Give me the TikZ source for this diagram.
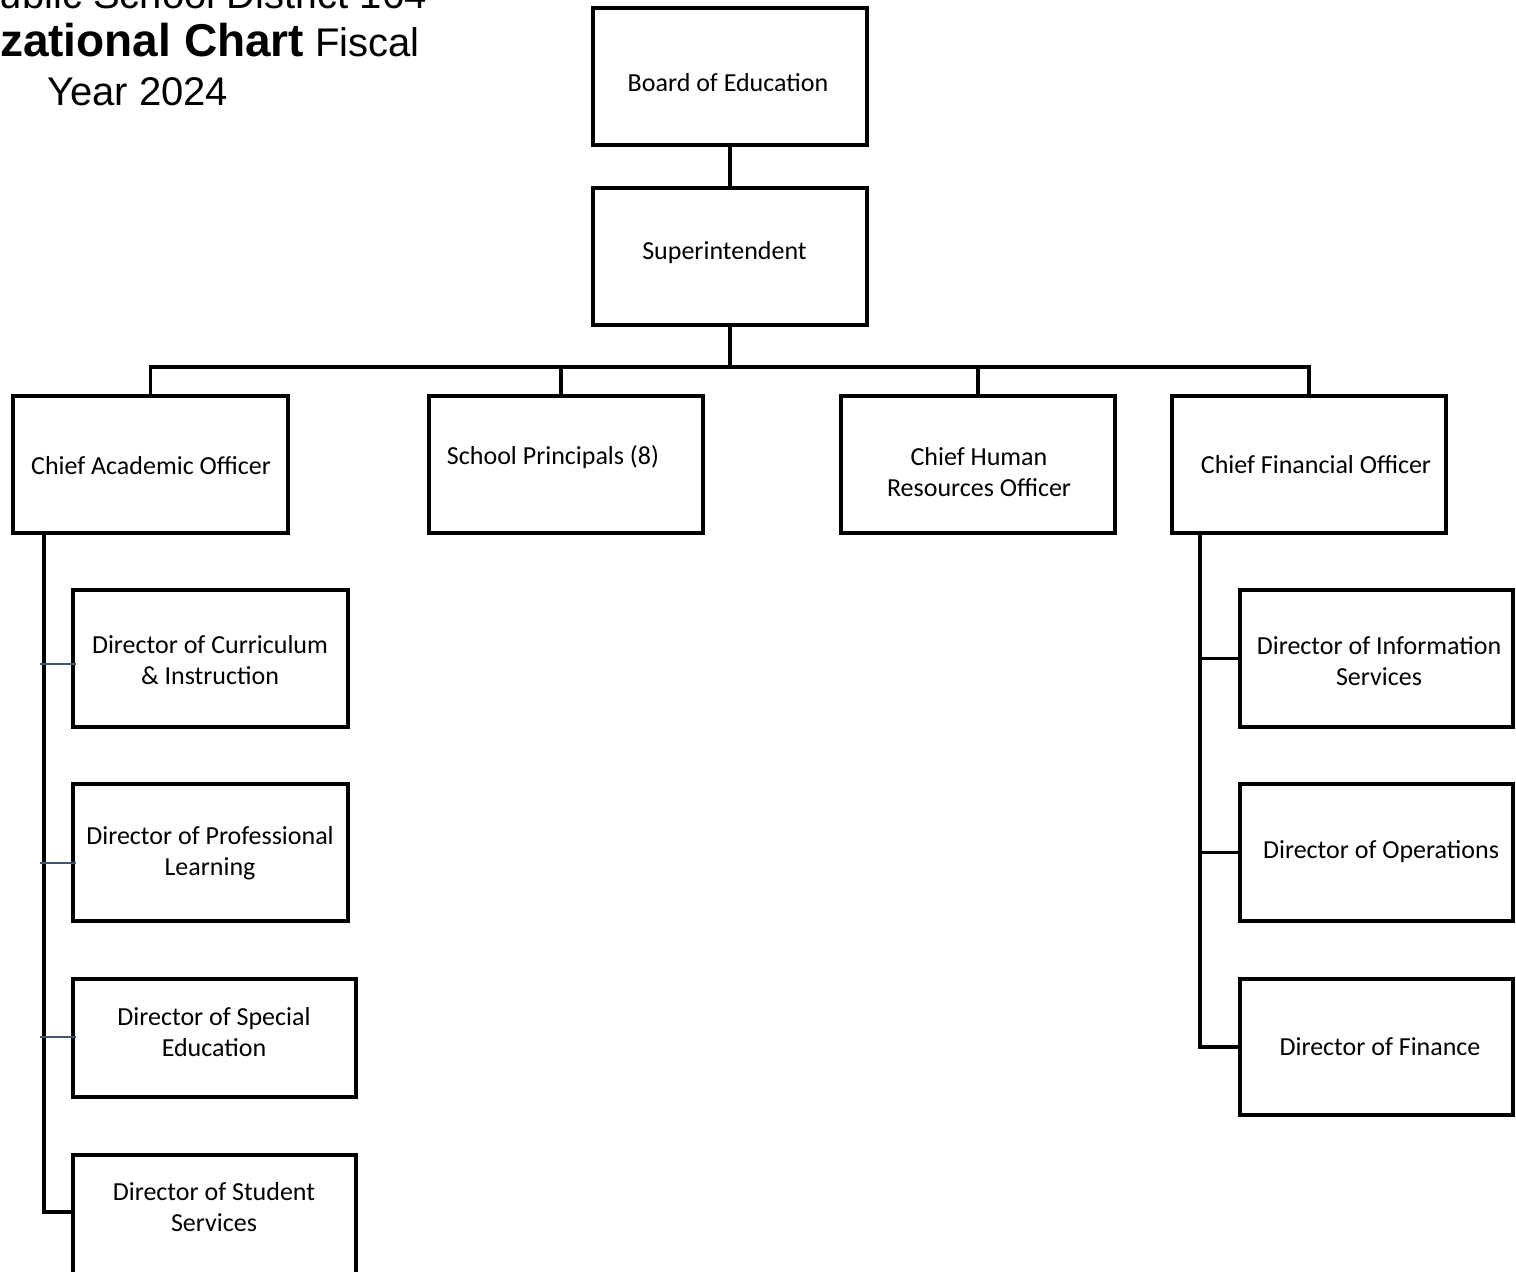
\documentclass[tikz,border=0pt]{standalone}
\usepackage{fontspec}
\setmainfont{Carlito}
\newfontfamily\titlefont{Liberation Sans}
\definecolor{stubcol}{RGB}{68,84,106}
\begin{document}
\begin{tikzpicture}[x=0.75pt,y=-0.75pt,
  box/.style 2 args={draw=black,line width=2.6pt,minimum width=#1*0.75pt,minimum height=#2*0.75pt,inner sep=0pt},
  txt/.style={font=\fontsize{19.5}{23.5}\selectfont,align=center,inner sep=0pt},
  link/.style={draw=black,line width=2.6pt},
  stub/.style={draw=stubcol,line width=1.5pt},
  ttl/.style={font=\titlefont\fontsize{30}{34}\selectfont,inner sep=0pt}]
\useasboundingbox (0,0) rectangle (1516,1271);
\clip (0,0) rectangle (1516,1271);
\fill[white] (0,0) rectangle (1516,1271);

% title
\node[ttl,anchor=base east] (t1) at (427,8) {Public School District 164};
\node[ttl,anchor=base east] (t2) at (420,56) {{\fontsize{34.5}{36}\selectfont\bfseries Organizational Chart} Fiscal};
\node[ttl,anchor=base west] (t3) at (47,105) {Year 2024};

% boxes (y down, in px)
\node[box={274}{137}] (board) at (730,76.5) {};
\node[box={274}{137}] (sup) at (730,256.5) {};
\node[box={275}{137}] (cao) at (150.5,464.5) {};
\node[box={274}{137}] (sp) at (566,464.5) {};
\node[box={274}{137}] (chro) at (978,464.5) {};
\node[box={274}{137}] (cfo) at (1309,464.5) {};
\node[box={275}{137}] (dci) at (210.5,658.5) {};
\node[box={275}{137}] (dpl) at (210.5,852.5) {};
\node[box={283}{118}] (dse) at (214.5,1038) {};
\node[box={283}{137}] (dss) at (214.5,1223.5) {};
\node[box={273}{137}] (dis) at (1376.5,658.5) {};
\node[box={273}{137}] (dop) at (1376.5,852.5) {};
\node[box={273}{136}] (dfi) at (1376.5,1047) {};

% texts
\node[txt] (tboard) at (728,83) {Board of Education};
\node[txt] (tsup) at (724.5,253) {Superintendent};
\node[txt] (tcao) at (151,466) {Chief Academic Officer};
\node[txt] (tsp) at (553,457) {School Principals (8)};
\node[txt] (tchro) at (979,472) {Chief Human\\Resources Officer};
\node[txt] (tcfo) at (1316,465) {Chief Financial Officer};
\node[txt] (tdci) at (210,660) {Director of Curriculum\\\& Instruction};
\node[txt] (tdpl) at (210,853) {Director of Professional\\Learning};
\node[txt] (tdse) at (214,1032) {Director of Special\\Education};
\node[txt] (tdss) at (214,1207) {Director of Student\\Services};
\node[txt] (tdis) at (1379,661) {Director of Information\\Services};
\node[txt] (tdop) at (1381,852) {Director of Operations};
\node[txt] (tdfi) at (1380,1047) {Director of Finance};

% connectors
\coordinate (bar) at (730,367);
\coordinate (lsx) at (44,0);
\coordinate (rsx) at (1200,0);
\coordinate (dssin) at (73,1212);
\coordinate (s1) at (40,664);
\coordinate (s2) at (40,863);
\coordinate (s3) at (40,1037);

\draw[link] (board.south) -- (sup.north);
\draw[link] (sup.south) -- (bar);
\draw[link] (cao.north) -- (cao.north |- bar) -- (cfo.north |- bar) -- (cfo.north);
\draw[link] ([xshift=-3.75pt]sp.north) -- ([xshift=-3.75pt]sp.north |- bar);
\draw[link] (chro.north) -- (chro.north |- bar);

\draw[link] (cao.south -| lsx) |- (dssin);
\draw[stub] (s1) -- ([xshift=3.5pt]dci.west |- s1);
\draw[stub] (s2) -- ([xshift=3.5pt]dpl.west |- s2);
\draw[stub] (s3) -- ([xshift=3.5pt]dse.west |- s3);

\draw[link] (cfo.south -| rsx) |- (dfi.west);
\draw[link] (dis.west -| rsx) -- (dis.west);
\draw[link] (dop.west -| rsx) -- (dop.west);
\end{tikzpicture}
\end{document}
